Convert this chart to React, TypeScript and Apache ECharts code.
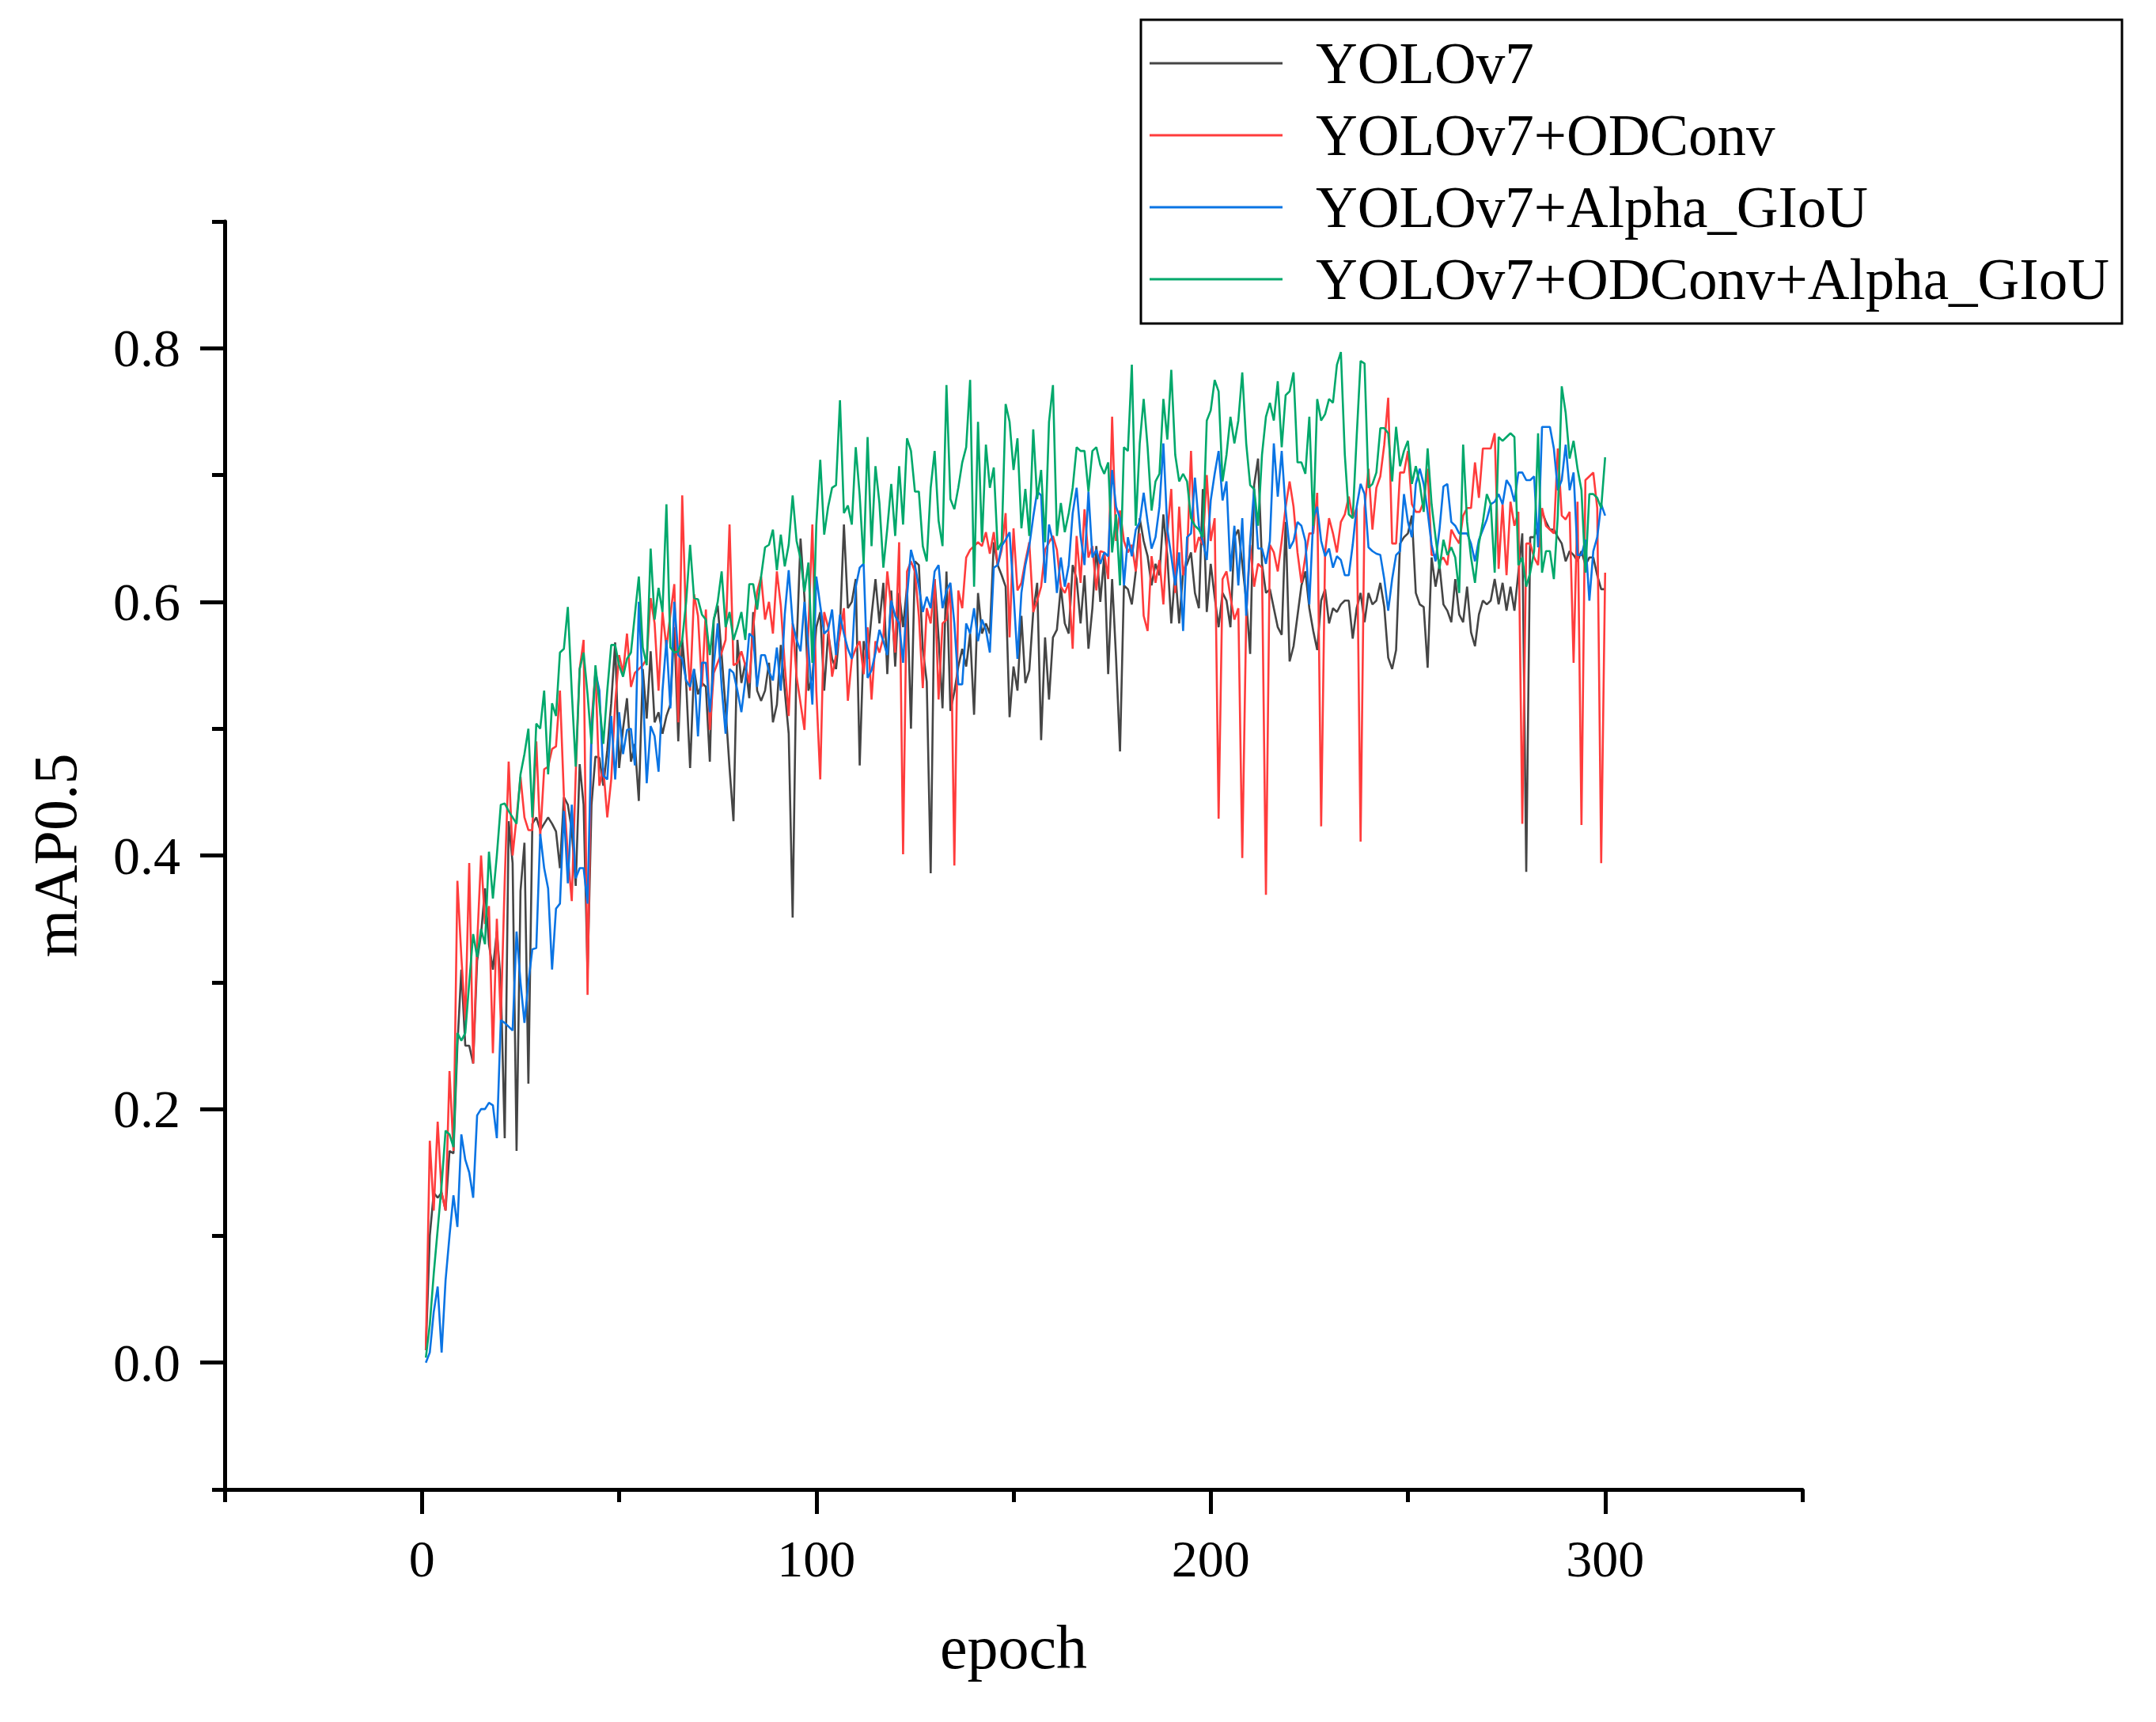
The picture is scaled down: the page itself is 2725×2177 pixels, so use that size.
import React, { useEffect, useRef } from "react";
import * as echarts from "echarts";

const SERIES_NAMES = ["YOLOv7", "YOLOv7+ODConv", "YOLOv7+Alpha_GIoU", "YOLOv7+ODConv+Alpha_GIoU"];
const COLORS = ["#454545", "#ff3c3c", "#0a74e4", "#00a86b"];
const X_MAJOR = [0, 100, 200, 300];
const Y_MAJOR = [0, 0.2, 0.4, 0.6, 0.8];

// mAP0.5 per epoch (epochs 1..300)
const yolov7 = [
  .01,.10,.134,.13,.134,.12,.167,.165,.25,.31,.25,.25,.236,.317,.338,.374,.33,.31,.34,.30,
  .177,.427,.394,.167,.372,.41,.22,.425,.43,.42,.425,.43,.425,.419,.39,.446,.44,.42,.376,.472,
  .44,.307,.44,.478,
  .477,.455,.483,.52,.568,.469,.50,.524,.474,.488,.443,.547,.508,.561,.505,.513,.496,.51,.519,.58,
  .49,.57,.536,.469,.547,.527,.536,.533,.474,.586,.597,.558,.516,.469,.427,.57,.536,.552,.524,.592,
  .53,.522,.53,.552,.505,.519,.566,.53,.496,.351,.564,.65,.603,.53,.541,.58,.592,.53,.575,.555,.547,
  .58,.661,.595,.60,.618,.471,.569,.555,.589,.618,.583,.615,.543,.609,.549,.607,.58,.612,.50,.632,
  .629,.563,.537,.386,.618,.572,.516,.624,.514,.529,.549,.563,.549,.575,.511,.607,.575,.583,.575,.647,
  .629,.621,.612,.509,.549,.53,.589,.536,.546,.592,.615,.491,.572,.523,.572,.578,.612,.583,.575,.629,
  .618,.583,.621,.563,.595,.644,
  .60,.636,.543,.618,.556,.482,.613,.61,.598,.624,.666,.648,.636,.613,.63,.621,.669,.636,.583,.624,
  .583,.624,.63,.639,.607,.595,.689,.592,.63,.604,.58,.607,.601,.58,.651,.657,.63,.601,.559,.692,
  .713,.63,.607,.61,.595,.58,.574,.663,.553,.565,.589,.613,.624,.595,.577,.562,.601,.61,.583,.595,
  .592,.598,.601,.601,.571,.595,
  .607,.584,.607,.598,.601,.615,.596,.556,.547,.562,.646,.651,.654,.668,.607,.598,.596,.548,.635,.612,
  .629,.598,.593,.584,.618,.59,.584,.612,.576,.565,.59,.601,.598,.601,.618,.598,.615,.593,.612,.593,
  .623,.654,.387,.651,.651,.66,.671,.663,.657,.657,.651,.646,.632,.64,.637,.632,.64,.629,.635,.635,
  .621,.61,.61,
];

const yolov7Odconv = [
  .01,.175,.12,.19,.134,.12,.23,.167,.38,.32,.27,.394,.236,.33,.40,.346,.36,.244,.35,.27,
  .38,.474,.40,.43,.462,.43,.42,.42,.49,.415,.468,.47,.484,.486,.53,.447,.40,.364,.464,.547,
  .57,.29,.505,.545,
  .455,.469,.43,.46,.52,.558,.544,.575,.533,.544,.547,.55,.555,.603,.583,.53,.592,.564,.59,.614,
  .505,.684,.58,.53,.606,.589,.533,.594,.499,.544,.552,.56,.57,.661,.55,.552,.561,.55,.536,.58,
  .608,.62,.586,.60,.575,.624,.597,.55,.51,.583,.541,.52,.499,.578,.661,.53,.46,.592,.58,.541,.558,
  .575,.595,.522,.555,.563,.569,.543,.58,.523,.569,.56,.572,.624,.595,.56,.647,.401,.624,.632,.624,
  .589,.532,.595,.583,.618,.523,.583,.586,.612,.392,.609,.595,.635,.641,.644,.647,.644,.655,.638,.655,
  .629,.641,.67,.572,.658,.609,.615,.632,.647,.592,.601,.612,.641,.647,.652,.641,.612,.607,.615,.563,
  .652,.615,.673,.635,.644,.609,
  .64,.639,.618,.746,.648,.672,.648,.639,.645,.624,.654,.589,.577,.636,.615,.633,.598,.654,.689,.607,
  .675,.621,.636,.719,.639,.651,.645,.70,.648,.666,.429,.618,.624,.604,.586,.595,.398,.589,.645,.612,
  .63,.627,.369,.645,.639,.624,.648,.675,.695,.675,.639,.615,.636,.654,.654,.686,.423,.639,.666,.654,
  .639,.663,.669,.683,.666,.674,
  .411,.674,.705,.657,.69,.699,.724,.761,.646,.646,.702,.702,.719,.677,.671,.671,.679,.705,.637,.637,
  .632,.635,.629,.657,.651,.646,.668,.674,.674,.71,.682,.721,.721,.721,.733,.626,.677,.621,.679,.66,
  .671,.425,.646,.646,.635,.629,.674,.66,.657,.654,.721,.668,.665,.671,.552,.679,.424,.696,.699,.702,
  .674,.394,.623,
];

const yolov7Alpha = [
  0,.008,.04,.06,.008,.065,.10,.132,.107,.18,.16,.15,.13,.195,.20,.20,.205,.203,.177,.27,
  .268,.265,.262,.34,.30,.268,.30,.326,.327,.417,.39,.374,.31,.358,.362,.435,.378,.44,.382,.39,
  .39,.362,.497,.545,
  .53,.463,.46,.51,.46,.513,.48,.499,.50,.471,.60,.533,.457,.502,.494,.466,.53,.57,.516,.60,
  .558,.555,.538,.533,.547,.494,.552,.552,.513,.55,.583,.533,.496,.547,.544,.53,.513,.538,.575,.572,
  .533,.558,.558,.545,.538,.564,.53,.59,.625,.583,.57,.561,.60,.564,.519,.62,.597,.575,.578,.594,.558,
  .59,.575,.563,.555,.612,.627,.63,.54,.546,.56,.578,.569,.558,.601,.589,.583,.552,.604,.641,.629,
  .612,.592,.604,.595,.624,.629,.595,.609,.615,.583,.535,.535,.583,.575,.595,.569,.586,.578,.56,.627,
  .629,.644,.649,.655,.607,.555,.607,.629,.644,.667,.687,.684,.615,.661,.647,.607,.635,.612,.629,.67,
  .69,.652,.629,.687,.635,.641,
  .63,.639,.636,.704,.675,.666,.613,.651,.636,.657,.663,.686,.663,.642,.651,.675,.725,.657,.636,.613,
  .639,.577,.651,.654,.698,.66,.648,.633,.68,.701,.719,.68,.695,.624,.66,.613,.666,.589,.648,.689,
  .642,.642,.63,.648,.725,.683,.719,.672,.642,.648,.663,.66,.648,.598,.666,.675,.648,.636,.642,.627,
  .636,.633,.621,.621,.645,.675,
  .693,.685,.643,.64,.638,.637,.618,.593,.618,.637,.64,.685,.663,.651,.693,.705,.693,.671,.645,.632,
  .657,.691,.693,.663,.66,.654,.654,.654,.646,.632,.649,.657,.665,.677,.679,.685,.677,.696,.691,.679,
  .702,.702,.696,.696,.699,.643,.738,.738,.738,.721,.688,.696,.724,.688,.702,.637,.637,.649,.601,.64,
  .651,.677,.668,
];

const yolov7Both = [
  .004,.03,.07,.105,.14,.183,.18,.17,.26,.254,.26,.30,.338,.32,.342,.33,.403,.366,.40,.44,
  .441,.435,.43,.425,.464,.48,.50,.43,.504,.50,.53,.464,.52,.51,.56,.563,.596,.529,.47,.547,
  .56,.527,.488,.55,
  .52,.488,.53,.566,.566,.55,.541,.555,.56,.59,.62,.564,.55,.642,.586,.611,.592,.677,.564,.56,
  .561,.57,.60,.645,.603,.602,.59,.586,.558,.586,.60,.624,.58,.592,.57,.58,.592,.57,.614,.614,
  .594,.62,.643,.645,.657,.625,.653,.628,.645,.684,.648,.634,.608,.631,.552,.661,.712,.653,.675,.69,.692,
  .759,.67,.676,.661,.722,.684,.63,.73,.644,.707,.678,.627,.658,.693,.652,.707,.661,.729,.719,.687,
  .687,.644,.632,.69,.719,.664,.644,.771,.681,.673,.69,.71,.722,.775,.612,.742,.647,.724,.69,.706,
  .641,.647,.756,.742,.704,.729,.658,.689,.652,.736,.681,.704,.647,.742,.771,.652,.678,.655,.67,.69,
  .722,.719,.719,.687,.719,.722,
  .708,.701,.71,.639,.669,.613,.722,.719,.787,.66,.725,.76,.722,.672,.695,.701,.76,.728,.783,.716,
  .695,.701,.695,.666,.66,.657,.651,.743,.751,.775,.766,.695,.716,.746,.725,.743,.781,.725,.692,.689,
  .66,.716,.746,.757,.743,.774,.722,.763,.766,.781,.71,.71,.701,.746,.66,.76,.743,.748,.76,.757,
  .787,.797,.716,.669,.666,.73,
  .79,.788,.69,.693,.702,.737,.737,.733,.695,.738,.707,.719,.727,.693,.707,.693,.671,.721,.677,.651,
  .626,.649,.637,.643,.635,.607,.724,.663,.635,.615,.646,.663,.685,.677,.623,.73,.727,.73,.733,.73,
  .629,.635,.612,.623,.64,.733,.623,.64,.64,.618,.668,.77,.749,.713,.727,.705,.688,.623,.685,.685,
  .682,.674,.714,
];

const FONT = "'Liberation Serif', 'Times New Roman', serif";

export default function App() {
  const ref = useRef<HTMLDivElement>(null);

  useEffect(() => {
    const chart = echarts.init(ref.current as HTMLDivElement, null, { renderer: "svg" });
    const black = "#000";
    const lineStyle = { color: black, width: 5 };
    const allSeries = [yolov7, yolov7Odconv, yolov7Alpha, yolov7Both];

    chart.setOption({
      animation: false,
      backgroundColor: "#fff",
      grid: { left: 284, right: 447, top: 280, bottom: 294, containLabel: false },
      legend: {
        orient: "vertical",
        left: 1453,
        top: 40,
        padding: 0,
        itemGap: 11,
        itemWidth: 168,
        itemHeight: 3,
        icon: "rect",
        data: SERIES_NAMES,
        textStyle: { fontFamily: FONT, fontSize: 73, color: black, lineHeight: 80, padding: [0, 0, 0, 37] },
      },
      graphic: [
        {
          type: "rect",
          shape: { x: 1442, y: 25, width: 1240, height: 384 },
          style: { fill: "none", stroke: black, lineWidth: 3 },
          silent: true,
        },
      ],
      xAxis: [
        {
          type: "value",
          min: -50,
          max: 350,
          interval: 50,
          position: "bottom",
          axisLine: { show: true, onZero: false, lineStyle },
          axisTick: { show: true, length: 16, lineStyle },
          axisLabel: { show: false },
          splitLine: { show: false },
          name: "epoch",
          nameLocation: "middle",
          nameGap: 160,
          nameTextStyle: { fontFamily: FONT, fontSize: 78, color: black },
        },
        {
          type: "value",
          min: -50,
          max: 350,
          position: "bottom",
          axisLine: { show: false, onZero: false },
          axisTick: { show: true, customValues: X_MAJOR, length: 31, lineStyle },
          axisLabel: {
            show: true,
            customValues: X_MAJOR,
            margin: 54,
            fontFamily: FONT,
            fontSize: 66,
            color: black,
          },
          splitLine: { show: false },
        },
      ],
      yAxis: [
        {
          type: "value",
          min: -0.1,
          max: 0.9,
          interval: 0.1,
          position: "left",
          axisLine: { show: true, onZero: false, lineStyle },
          axisTick: { show: true, length: 16, lineStyle },
          axisLabel: { show: false },
          splitLine: { show: false },
          name: "mAP0.5",
          nameLocation: "middle",
          nameGap: 176,
          nameTextStyle: { fontFamily: FONT, fontSize: 78, color: black },
        },
        {
          type: "value",
          min: -0.1,
          max: 0.9,
          position: "left",
          axisLine: { show: false, onZero: false },
          axisTick: { show: true, customValues: Y_MAJOR, length: 31, lineStyle },
          axisLabel: {
            show: true,
            customValues: Y_MAJOR,
            margin: 56,
            fontFamily: FONT,
            fontSize: 68,
            color: black,
            formatter: (v: number) => v.toFixed(1),
          },
          splitLine: { show: false },
        },
      ],
      series: allSeries.map((vals, i) => ({
        name: SERIES_NAMES[i],
        type: "line",
        xAxisIndex: 0,
        yAxisIndex: 0,
        data: vals.map((v, k) => [k + 1, v]),
        symbol: "none",
        showSymbol: false,
        lineStyle: { color: COLORS[i], width: 2.6 },
        itemStyle: { color: COLORS[i] },
        emphasis: { disabled: true },
      })),
    });

    return () => chart.dispose();
  }, []);

  return (
    <div
      ref={ref}
      style={{ position: "absolute", left: 0, top: 0, width: 2725, height: 2177, background: "#fff" }}
    />
  );
}
